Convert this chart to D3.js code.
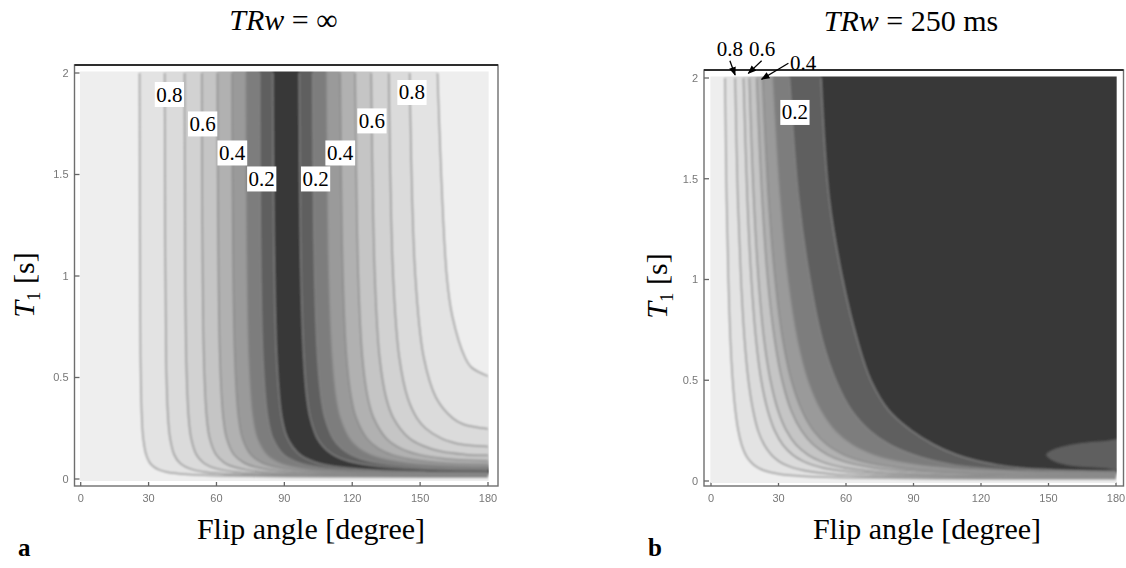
<!DOCTYPE html>
<html>
<head>
<meta charset="utf-8">
<title>Flip angle / T1 contour maps</title>
<script src="https://cdn.jsdelivr.net/npm/d3@7"></script>
<style>
  body { margin: 0; background: #fff; }
  svg { display: block; }
  .tick-label { font-family: "Liberation Sans", Arial, sans-serif; font-size: 11px; fill: #777; }
</style>
</head>
<body>
<svg id="chart" width="1126" height="568"></svg>
<script>
// axis ticks
const angleTicks = [0, 30, 60, 90, 120, 150, 180];
const angleTickLabels = ["0", "30", "60", "90", "120", "150", "180"];
const t1Ticks = [0, 0.5, 1, 1.5, 2];
const t1TickLabels = ["0", "0.5", "1", "1.5", "2"];

// contour levels, darkest band last
const levels = [0.9, 0.8, 0.7, 0.6, 0.5, 0.4, 0.3, 0.2, 0.1];

// panel a (TRw = inf): each level has a left and a right branch, points are [flip angle, T1]
const aLeft09 = [[26.0,2],[26.4,0.6],[27.0,0.3],[27.6,0.2],[28.9,0.12],[30.5,0.08],[32.3,0.06],[34.7,0.045],[37.8,0.035],[41.7,0.028],[47.6,0.022],[57.4,0.017],[74.9,0.013],[110.3,0.010],[129.6,0.0093],[180,0.0087]];
const aLeft08 = [[37.1,2],[37.7,0.6],[38.6,0.3],[39.5,0.2],[41.3,0.12],[43.7,0.08],[46.3,0.06],[49.9,0.045],[54.6,0.035],[60.4,0.028],[69.6,0.022],[85.6,0.017],[118.5,0.013],[138.2,0.012],[180,0.0113]];
const aLeft07 = [[45.9,2],[46.6,0.6],[47.7,0.3],[48.8,0.2],[51.1,0.12],[54.2,0.08],[57.5,0.06],[62.3,0.045],[68.3,0.035],[76.1,0.028],[88.8,0.022],[112.6,0.017],[134.3,0.015],[180,0.0137]];
const aLeft06 = [[53.5,2],[54.4,0.6],[55.7,0.3],[57.0,0.2],[59.8,0.12],[63.5,0.08],[67.5,0.06],[73.3,0.045],[80.8,0.035],[90.7,0.028],[107.7,0.022],[121.2,0.0195],[147.8,0.017],[180,0.0162]];
const aLeft05 = [[60.4,2],[61.5,0.6],[63.0,0.3],[64.5,0.2],[67.7,0.12],[72.1,0.08],[76.8,0.06],[83.7,0.045],[92.9,0.035],[105.4,0.028],[129.1,0.022],[146.6,0.020],[180,0.0188]];
const aLeft04 = [[66.9,2],[68.1,0.6],[69.8,0.3],[71.5,0.2],[75.2,0.12],[80.2,0.08],[85.7,0.06],[94.0,0.045],[105.1,0.035],[121.2,0.028],[163.0,0.022],[180,0.0216]];
const aLeft03 = [[73.1,2],[74.4,0.6],[76.3,0.3],[78.3,0.2],[82.5,0.12],[88.2,0.08],[94.6,0.06],[104.3,0.045],[118.1,0.035],[140.5,0.028],[154.5,0.026],[180,0.0248]];
const aLeft02 = [[79.1,2],[80.5,0.6],[82.7,0.3],[84.9,0.2],[89.6,0.12],[96.2,0.08],[103.5,0.06],[115.2,0.045],[133.0,0.035],[148.3,0.031],[164.0,0.029],[180,0.0284]];
const aLeft01 = [[84.9,2],[86.6,0.6],[88.9,0.3],[91.4,0.2],[96.8,0.12],[104.2,0.08],[112.8,0.06],[127.2,0.045],[153.1,0.035],[162.9,0.0335],[180,0.0326]];

const aRight09 = [[157.7,2],[161.8,1],[164.3,0.8],[169.8,0.6],[172.7,0.55],[180,0.507]];
const aRight08 = [[145.4,2],[147.9,1],[151.6,0.6],[157.1,0.4],[164.4,0.3],[169.1,0.27],[180,0.247]];
const aRight07 = [[136.2,2],[138.1,1],[140.8,0.6],[144.5,0.4],[148.6,0.3],[152.4,0.25],[159.4,0.2],[164.6,0.18],[168.8,0.17],[180,0.160]];
const aRight06 = [[128.4,2],[130.0,1],[132.1,0.6],[135.0,0.4],[138.2,0.3],[145.3,0.2],[154.5,0.15],[162.6,0.13],[170.8,0.12],[180,0.1165]];
const aRight05 = [[121.3,2],[122.7,1],[124.5,0.6],[126.9,0.4],[129.5,0.3],[135.1,0.2],[141.6,0.15],[149.7,0.12],[161.0,0.1],[166.5,0.095],[180,0.0904]];
const aRight04 = [[114.7,2],[115.9,1],[117.5,0.6],[119.6,0.4],[121.8,0.3],[126.5,0.2],[131.7,0.15],[137.6,0.12],[144.7,0.1],[154.3,0.085],[162.5,0.078],[168.5,0.075],[180,0.0729]];
const aRight03 = [[108.5,2],[109.5,1],[111.0,0.6],[112.8,0.4],[114.7,0.3],[118.7,0.2],[123.1,0.15],[127.9,0.12],[133.3,0.1],[143.1,0.08],[152.2,0.07],[159.9,0.065],[167.8,0.062],[180,0.0604]];
const aRight02 = [[102.5,2],[103.4,1],[104.7,0.6],[106.3,0.4],[108.0,0.3],[111.5,0.2],[115.3,0.15],[119.4,0.12],[123.8,0.1],[131.4,0.08],[142.2,0.065],[151.5,0.058],[160.4,0.054],[168.1,0.052],[180,0.0509]];
const aRight01 = [[96.6,2],[97.4,1],[98.6,0.6],[100.0,0.4],[101.5,0.3],[104.6,0.2],[108.0,0.15],[111.5,0.12],[115.3,0.1],[121.5,0.08],[129.9,0.065],[139.9,0.055],[148.2,0.05],[155.9,0.047],[163.8,0.045],[170.4,0.044],[180,0.0435]];

// panel b (TRw = 250 ms): one branch per level, plus the lighter island near the bottom right
const bContour09 = [[6.2,2],[6.9,1.4],[7.7,1.0],[8.6,0.7],[9.6,0.5],[10.8,0.35],[12.1,0.25],[13.6,0.18],[15.4,0.13],[17.2,0.1],[19.0,0.08],[21.0,0.065],[23.6,0.052],[26.7,0.042],[30.6,0.034],[36.2,0.027],[45.0,0.021],[60.0,0.016],[89.7,0.012],[117.3,0.0105],[180,0.0095]];
const bContour08 = [[10.7,2],[11.9,1.4],[13.3,1.0],[14.9,0.7],[16.6,0.5],[18.7,0.35],[20.9,0.25],[23.6,0.18],[26.8,0.13],[29.9,0.1],[33.1,0.08],[36.6,0.065],[41.3,0.052],[46.9,0.042],[54.1,0.034],[64.8,0.027],[82.5,0.021],[119.0,0.016],[135.5,0.015],[180,0.0143]];
const bContour07 = [[14.4,2],[16.1,1.4],[17.9,1.0],[20.0,0.7],[22.3,0.5],[25.2,0.35],[28.3,0.25],[31.9,0.18],[36.3,0.13],[40.6,0.1],[45.0,0.08],[49.9,0.065],[56.5,0.052],[64.6,0.042],[75.3,0.034],[92.1,0.027],[124.8,0.021],[143.1,0.0195],[180,0.0187]];
const bContour06 = [[17.0,2],[19.0,1.4],[21.1,1.0],[23.6,0.7],[26.4,0.5],[29.8,0.35],[33.5,0.25],[37.8,0.18],[43.1,0.13],[48.3,0.1],[53.6,0.08],[59.7,0.065],[67.9,0.052],[78.2,0.042],[92.2,0.034],[116.2,0.027],[137.6,0.024],[180,0.0223]];
const bContour05 = [[20.3,2],[22.7,1.4],[25.2,1.0],[28.3,0.7],[31.6,0.5],[35.6,0.35],[40.2,0.25],[45.5,0.18],[51.9,0.13],[58.3,0.1],[65.1,0.08],[72.8,0.065],[83.5,0.052],[97.5,0.042],[118.4,0.034],[138.9,0.030],[180,0.0275]];
const bContour04 = [[22.9,2],[25.6,1.4],[28.5,1.0],[31.9,0.7],[35.7,0.5],[40.4,0.35],[45.5,0.25],[51.6,0.18],[59.1,0.13],[66.6,0.1],[74.6,0.08],[83.9,0.065],[97.2,0.052],[115.7,0.042],[150.7,0.034],[180,0.0326]];
const bContour03 = [[27.6,2],[30.9,1.4],[34.4,1.0],[38.6,0.7],[43.2,0.5],[49.0,0.35],[55.4,0.25],[63.1,0.18],[72.7,0.13],[82.6,0.1],[93.4,0.08],[106.9,0.065],[128.6,0.052],[150,0.045],[180,0.040]];
const bContour02 = [[34.9,2],[39.0,1.4],[44.0,1.0],[49.5,0.7],[55.5,0.5],[62.5,0.35],[70.5,0.25],[79.5,0.18],[90,0.13],[99,0.1],[108,0.08],[119,0.065],[132,0.055],[150,0.048],[180,0.043]];
const bContour01 = [[48.9,2],[52.5,1.4],[58.5,1.0],[65,0.7],[71,0.5],[79,0.35],[89,0.25],[99,0.18],[109,0.13],[118,0.1],[127,0.08],[137,0.065],[146,0.058],[160,0.052],[180,0.048]];
const bIsland = [[149,0.13],[152,0.155],[158,0.175],[166,0.19],[174,0.197],[183,0.2],[183,0.062],[174,0.064],[166,0.069],[158,0.08],[152,0.1]];

// contour labels, anchored in data units
const aLabelText = ["0.8", "0.6", "0.4", "0.2", "0.2", "0.4", "0.6", "0.8"];
const aLabelAngle = [39.2, 53.9, 66.9, 80.0, 103.8, 114.6, 128.7, 146.4];
const aLabelT1 = [1.894, 1.749, 1.606, 1.478, 1.478, 1.606, 1.764, 1.904];
const bLabelText = ["0.8", "0.6", "0.4", "0.2"];
const bLabelAngle = [8.4, 22.7, 40.9, 37.3];
const bLabelT1 = [2.144, 2.144, 2.072, 1.829];
const bArrowFrom = [[8.4, 2.086], [22.5, 2.086], [34.4, 2.073]];
const bArrowTo = [[10.7, 2.015], [16.6, 2.023], [22.5, 1.994]];

const aLeft = [aLeft09, aLeft08, aLeft07, aLeft06, aLeft05, aLeft04, aLeft03, aLeft02, aLeft01];
const aRight = [aRight09, aRight08, aRight07, aRight06, aRight05, aRight04, aRight03, aRight02, aRight01];
const bContours = [bContour09, bContour08, bContour07, bContour06, bContour05, bContour04, bContour03, bContour02, bContour01];

// grey for band [k/10, (k+1)/10]
const bandFill = ["#373737", "#5f5f5f", "#7d7d7d", "#9a9a9a", "#b1b1b1", "#c5c5c5", "#d2d2d2", "#dbdbdb", "#e3e3e3", "#eeeeee"];
const SERIF = "'Liberation Serif', 'Times New Roman', serif";

const svg = d3.select("#chart");
const defs = svg.append("defs");

defs.append("filter").attr("id", "soft")
    .attr("x", "-2%").attr("y", "-2%").attr("width", "104%").attr("height", "104%")
  .append("feGaussianBlur").attr("stdDeviation", 0.8);
defs.append("filter").attr("id", "softText")
  .append("feGaussianBlur").attr("stdDeviation", 0.45);
defs.append("marker").attr("id", "arrowHead")
    .attr("viewBox", "0 0 10 8").attr("refX", 9).attr("refY", 4)
    .attr("markerWidth", 9).attr("markerHeight", 7)
    .attr("markerUnits", "userSpaceOnUse").attr("orient", "auto")
  .append("path").attr("d", "M0,0L10,4L0,8Z").attr("fill", "#000");

function makePanel(p) {
    const x = d3.scaleLinear().domain([0, 180]).range(p.xRange);
    const y = d3.scaleLinear().domain([0, 2]).range(p.yRange);
    const g = svg.append("g");
    const f = p.frame;

    // frame + ticks
    const axes = g.append("g").attr("filter", "url(#softText)");
    axes.append("rect")
        .attr("x", f.l).attr("y", f.t)
        .attr("width", f.r - f.l).attr("height", f.b - f.t)
        .attr("fill", "#fff").attr("stroke", "#6e6e6e").attr("stroke-width", 1.4);
    axes.append("line")
        .attr("x1", f.l).attr("x2", f.r).attr("y1", f.t).attr("y2", f.t)
        .attr("stroke", "#2e2e2e").attr("stroke-width", 2);
    axes.selectAll(".xt").data(angleTicks).join("line")
        .attr("x1", d => x(d)).attr("x2", d => x(d))
        .attr("y1", f.b).attr("y2", f.b - 4)
        .attr("stroke", "#666").attr("stroke-width", 1.3);
    axes.selectAll(".yt").data(t1Ticks).join("line")
        .attr("x1", f.l).attr("x2", f.l + 5)
        .attr("y1", d => y(d)).attr("y2", d => y(d))
        .attr("stroke", "#666").attr("stroke-width", 1.3);
    axes.selectAll(".xl").data(angleTicks).join("text")
        .attr("class", "tick-label")
        .attr("x", d => x(d)).attr("y", f.b + 16)
        .attr("text-anchor", "middle")
        .text((d, i) => angleTickLabels[i]);
    axes.selectAll(".yl").data(t1Ticks).join("text")
        .attr("class", "tick-label")
        .attr("x", f.l - 6).attr("y", d => y(d)).attr("dy", "0.35em")
        .attr("text-anchor", "end")
        .text((d, i) => t1TickLabels[i]);

    // plot area
    const clipId = "clip-" + p.id;
    defs.append("clipPath").attr("id", clipId).append("rect")
        .attr("x", x(-0.3)).attr("y", y(2.008))
        .attr("width", x(180.3) - x(-0.3)).attr("height", y(-0.01) - y(2.008));
    const plot = g.append("g").attr("clip-path", `url(#${clipId})`)
        .append("g").attr("filter", "url(#soft)");
    plot.append("rect")
        .attr("x", x(-3)).attr("y", y(2.1))
        .attr("width", x(183) - x(-3)).attr("height", y(-0.1) - y(2.1))
        .attr("fill", bandFill[9]);

    // titles and axis labels
    const title = g.append("text")
        .attr("font-family", SERIF).attr("fill", "#000")
        .attr("x", p.titleX).attr("y", p.titleY)
        .attr("text-anchor", "middle").attr("font-size", 30);
    title.append("tspan").attr("font-style", "italic").text("TRw");
    title.append("tspan").text(" = " + p.titleValue);

    g.append("text")
        .attr("font-family", SERIF).attr("fill", "#000")
        .attr("x", p.xLabelX).attr("y", 539)
        .attr("text-anchor", "middle").attr("font-size", 30)
        .text("Flip angle [degree]");

    const yl = g.append("text")
        .attr("font-family", SERIF).attr("fill", "#000")
        .attr("transform", `translate(${p.yLabelX},${p.yLabelY}) rotate(-90)`)
        .attr("text-anchor", "middle").attr("font-size", 30);
    yl.append("tspan").attr("font-style", "italic").text("T");
    yl.append("tspan").attr("font-size", 19).attr("dy", 6).text("1");
    yl.append("tspan").attr("dy", -6).text(" [s]");

    g.append("text")
        .attr("font-family", SERIF).attr("fill", "#000")
        .attr("x", p.tagX).attr("y", 556)
        .attr("font-size", 25).attr("font-weight", "bold")
        .text(p.id);

    const line = d3.line()
        .x(d => x(d[0])).y(d => y(d[1]))
        .curve(d3.curveCatmullRom.alpha(0.5));

    return { x, y, g, plot, line };
}

function addLabel(g, x, y, text, a, t, boxed) {
    const lg = g.append("g").attr("transform", `translate(${x(a)},${y(t)})`);
    const rect = boxed ? lg.append("rect") : null;
    const tx = lg.append("text")
        .attr("font-family", SERIF).attr("fill", "#000")
        .attr("text-anchor", "middle").attr("y", 7).attr("font-size", 21)
        .text(text);
    if (rect) {
        const b = tx.node().getBBox();
        rect.attr("x", b.x - 1.5).attr("y", -12.5)
            .attr("width", b.width + 3).attr("height", 25)
            .attr("fill", "#fff");
    }
}

// ---------- panel a ----------
const pa = makePanel({
    id: "a", titleValue: "\u221E",
    xRange: [80.7, 488], yRange: [479, 73],
    frame: { l: 74.5, t: 65, r: 498, b: 486 },
    titleX: 283.5, titleY: 30, xLabelX: 311, yLabelX: 34, yLabelY: 285, tagX: 18
});

levels.forEach((c, i) => {
    const L = aLeft[i], R = aRight[i];
    const x = pa.x, y = pa.y;
    const d = `M${x(L[0][0])},${y(2.1)}` + pa.line(L).replace(/^M/, "L")
        + `L${x(190)},${y(L[L.length - 1][1])}L${x(190)},${y(R[R.length - 1][1])}`
        + pa.line(R.slice().reverse()).replace(/^M/, "L")
        + `L${x(R[0][0])},${y(2.1)}Z`;
    pa.plot.append("path").attr("d", d).attr("fill", bandFill[Math.round(c * 10) - 1]);
});

pa.plot.selectAll(".cline").data(aLeft.concat(aRight)).join("path")
    .attr("d", pa.line)
    .attr("fill", "none").attr("stroke", "#868686")
    .attr("stroke-width", 1.5).attr("stroke-opacity", 0.85);

aLabelText.forEach((t, i) => addLabel(pa.g, pa.x, pa.y, t, aLabelAngle[i], aLabelT1[i], true));

// ---------- panel b ----------
const pb = makePanel({
    id: "b", titleValue: "250 ms",
    xRange: [711, 1116], yRange: [481, 78],
    frame: { l: 704, t: 70, r: 1123.5, b: 486 },
    titleX: 911, titleY: 31, xLabelX: 927, yLabelX: 667, yLabelY: 286, tagX: 648
});

levels.forEach((c, i) => {
    const C = bContours[i];
    const x = pb.x, y = pb.y;
    const d = `M${x(C[0][0])},${y(2.1)}` + pb.line(C).replace(/^M/, "L")
        + `L${x(190)},${y(C[C.length - 1][1])}L${x(190)},${y(2.1)}Z`;
    pb.plot.append("path").attr("d", d).attr("fill", bandFill[Math.round(c * 10) - 1]);
});

pb.plot.append("path")
    .attr("d", d3.line().x(d => pb.x(d[0])).y(d => pb.y(d[1]))
        .curve(d3.curveCatmullRomClosed.alpha(0.5))(bIsland))
    .attr("fill", bandFill[1]);

pb.plot.selectAll(".cline").data(bContours).join("path")
    .attr("d", pb.line)
    .attr("fill", "none").attr("stroke", "#868686")
    .attr("stroke-width", 1.5).attr("stroke-opacity", 0.85);

bLabelText.forEach((t, i) => addLabel(pb.g, pb.x, pb.y, t, bLabelAngle[i], bLabelT1[i], t === "0.2"));

pb.g.selectAll(".arrow").data(bArrowFrom).join("line")
    .attr("x1", d => pb.x(d[0])).attr("y1", d => pb.y(d[1]))
    .attr("x2", (d, i) => pb.x(bArrowTo[i][0])).attr("y2", (d, i) => pb.y(bArrowTo[i][1]))
    .attr("stroke", "#000").attr("stroke-width", 1.3)
    .attr("marker-end", "url(#arrowHead)");
</script>
</body>
</html>
